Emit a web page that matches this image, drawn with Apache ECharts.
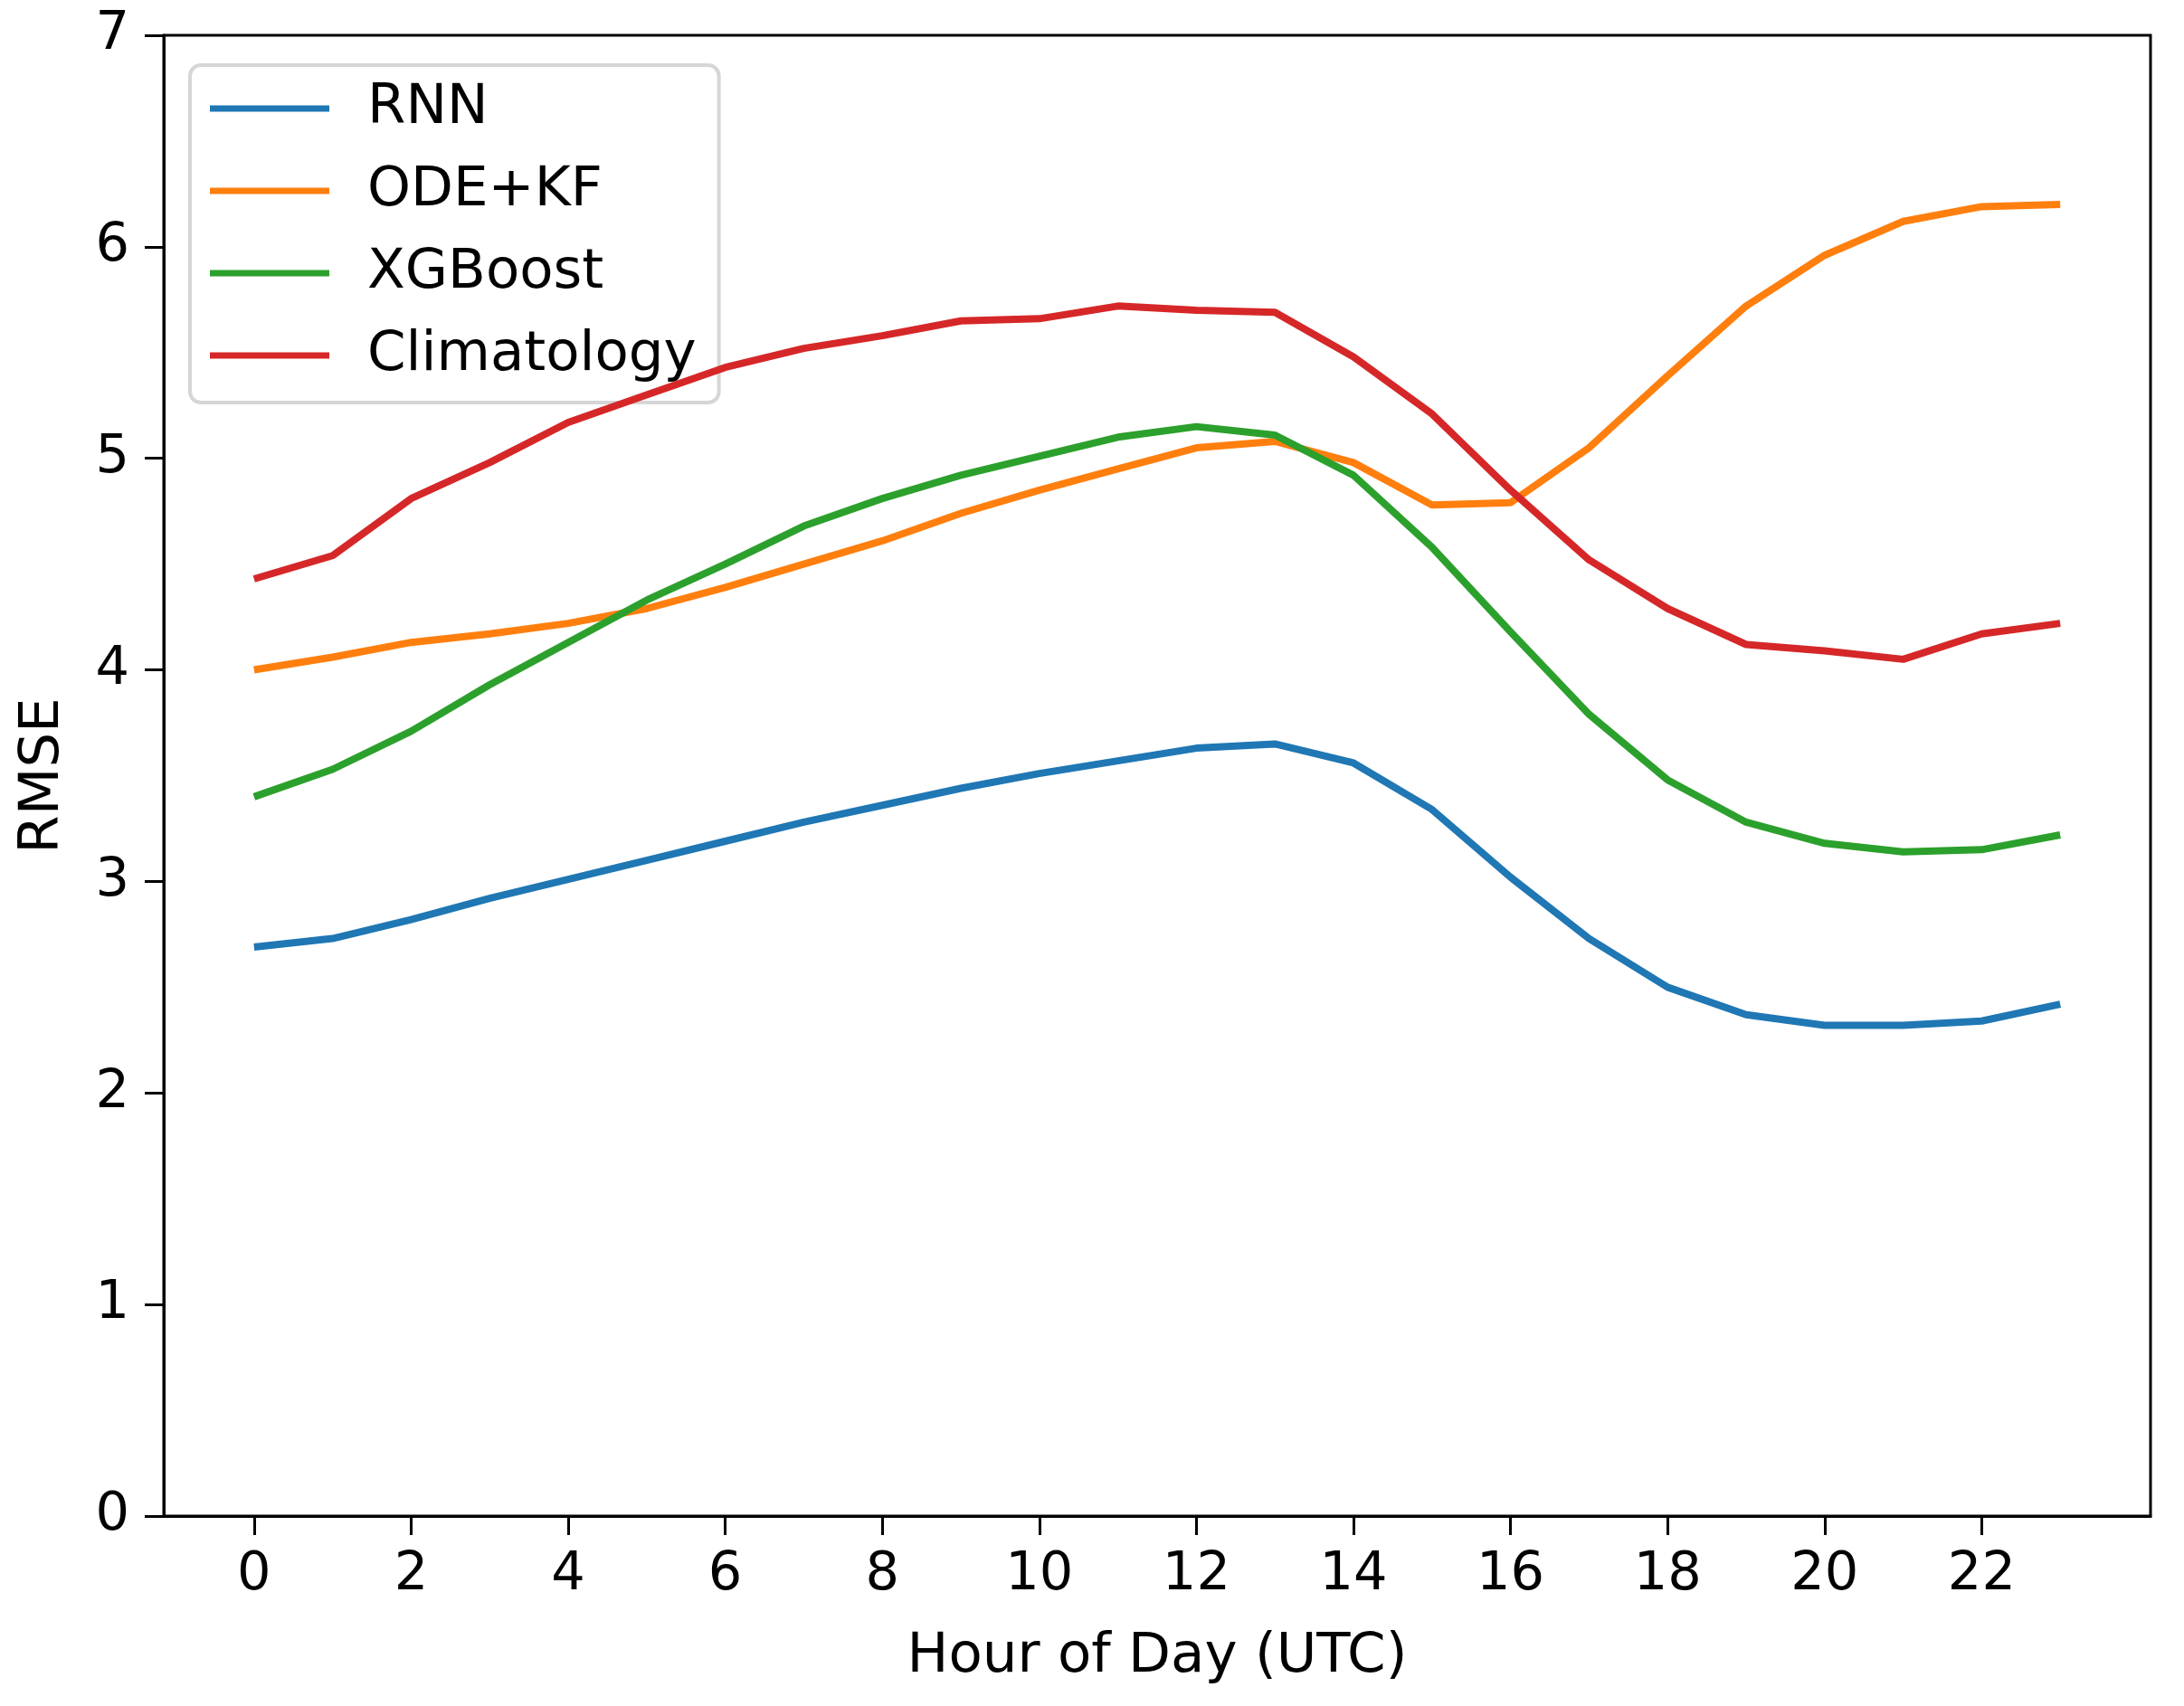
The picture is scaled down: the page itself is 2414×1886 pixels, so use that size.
<!DOCTYPE html>
<html>
<head>
<meta charset="utf-8">
<script src="https://cdn.jsdelivr.net/npm/echarts@6/dist/echarts.min.js"></script>
<style>
html,body{margin:0;padding:0;background:#fff;}
#chart{width:2414px;height:1886px;}
</style>
</head>
<body>
<div id="chart"></div>
<script>
const hours = [0,1,2,3,4,5,6,7,8,9,10,11,12,13,14,15,16,17,18,19,20,21,22,23];
const rnn = [2.69,2.73,2.82,2.92,3.01,3.10,3.19,3.28,3.36,3.44,3.51,3.57,3.63,3.65,3.56,3.34,3.02,2.73,2.50,2.37,2.32,2.32,2.34,2.42];
const odeKf = [4.00,4.06,4.13,4.17,4.22,4.29,4.39,4.50,4.61,4.74,4.85,4.95,5.05,5.08,4.98,4.78,4.79,5.05,5.39,5.72,5.96,6.12,6.19,6.20];
const xgboost = [3.40,3.53,3.71,3.93,4.13,4.33,4.50,4.68,4.81,4.92,5.01,5.10,5.15,5.11,4.92,4.58,4.18,3.79,3.48,3.28,3.18,3.14,3.15,3.22];
const climatology = [4.43,4.54,4.81,4.98,5.17,5.30,5.43,5.52,5.58,5.65,5.66,5.72,5.70,5.69,5.48,5.21,4.85,4.52,4.29,4.12,4.09,4.05,4.17,4.22];
const xTicks = [0,2,4,6,8,10,12,14,16,18,20,22];
const seriesNames = ['RNN','ODE+KF','XGBoost','Climatology'];
const colors = ['#1f77b4','#ff7f0e','#2ca02c','#d62728'];

const FONT = 'DejaVu Sans';
const FS = 61;
const TFS = 59;
const chart = echarts.init(document.getElementById('chart'), null, {renderer:'canvas'});
const allData = [rnn, odeKf, xgboost, climatology];
chart.setOption({
  animation:false,
  backgroundColor:'#ffffff',
  grid:{left:181,right:37,top:39,bottom:210,show:true,borderColor:'#000',borderWidth:3,backgroundColor:'transparent'},
  legend:{
    orient:'vertical',left:210,top:72,
    padding:[17,25,21,22],
    backgroundColor:'rgba(255,255,255,0.8)',
    borderColor:'#d6d6d6',borderWidth:4,borderRadius:12,
    icon:'rect',itemWidth:132,itemHeight:7,itemGap:29,
    textStyle:{fontFamily:FONT,fontSize:FS,color:'#000',lineHeight:62,padding:[0,0,0,37]},
    data:seriesNames
  },
  xAxis:{
    type:'value',min:-1.15,max:24.15,
    name:'Hour of Day (UTC)',nameLocation:'middle',nameGap:126,
    nameTextStyle:{fontFamily:FONT,fontSize:FS,color:'#000'},
    axisLine:{show:true,onZero:false,lineStyle:{color:'#000',width:3}},
    axisTick:{show:true,inside:false,length:21,lineStyle:{color:'#000',width:3},customValues:xTicks},
    axisLabel:{fontFamily:FONT,fontSize:TFS,color:'#000',margin:36,customValues:xTicks},
    splitLine:{show:false}
  },
  yAxis:{
    type:'value',min:0,max:7,interval:1,
    name:'RMSE',nameLocation:'middle',nameGap:102,nameRotate:90,
    nameTextStyle:{fontFamily:FONT,fontSize:FS,color:'#000'},
    axisLine:{show:true,onZero:false,lineStyle:{color:'#000',width:3}},
    axisTick:{show:true,inside:false,length:21,lineStyle:{color:'#000',width:3}},
    axisLabel:{fontFamily:FONT,fontSize:TFS,color:'#000',margin:38},
    splitLine:{show:false}
  },
  series: seriesNames.map((n,k)=>({
    name:n,type:'line',
    data:hours.map((h,i)=>[h,allData[k][i]]),
    showSymbol:false,symbol:'none',
    lineStyle:{color:colors[k],width:8},
    itemStyle:{color:colors[k]},
    z:2+k
  }))
});
</script>
</body>
</html>
